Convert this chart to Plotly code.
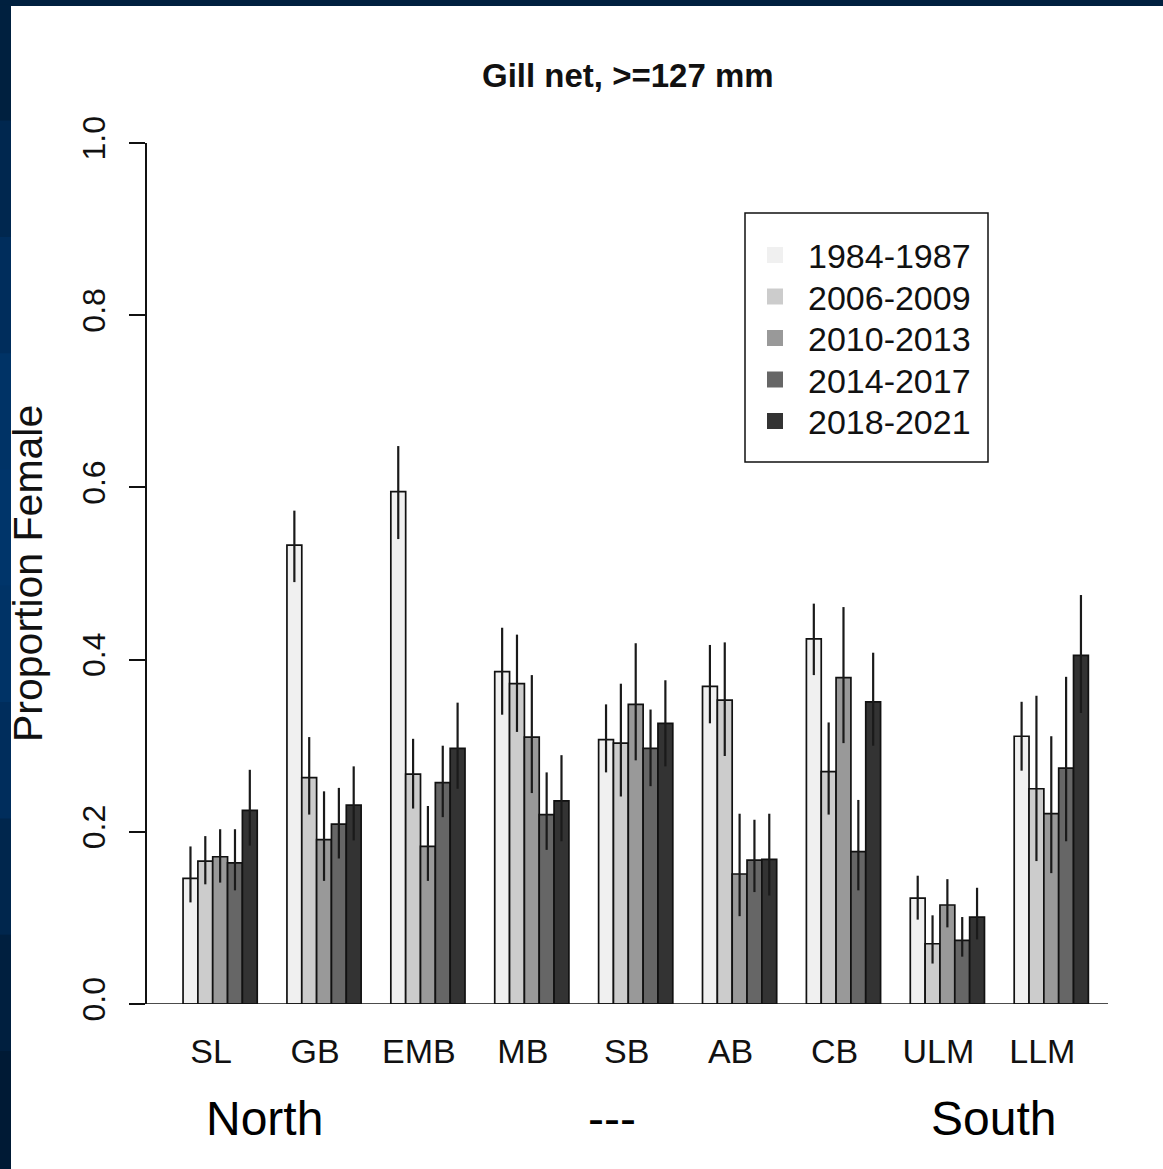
import plotly.graph_objects as go

regions = ["SL", "GB", "EMB", "MB", "SB", "AB", "CB", "ULM", "LLM"]
periods = ["1984-1987", "2006-2009", "2010-2013", "2014-2017", "2018-2021"]
colors = ["#F0F0F0", "#CCCCCC", "#999999", "#666666", "#333333"]

# proportion female per period (rows) and region (columns)
p1984 = [0.146, 0.533, 0.595, 0.386, 0.307, 0.369, 0.424, 0.123, 0.311]
p2006 = [0.166, 0.263, 0.267, 0.372, 0.303, 0.353, 0.270, 0.070, 0.250]
p2010 = [0.171, 0.191, 0.183, 0.310, 0.348, 0.151, 0.379, 0.115, 0.221]
p2014 = [0.164, 0.209, 0.257, 0.220, 0.297, 0.167, 0.177, 0.074, 0.274]
p2018 = [0.225, 0.231, 0.297, 0.236, 0.326, 0.168, 0.351, 0.101, 0.405]

# upper and lower ends of the error bars
hi1984 = [0.183, 0.573, 0.648, 0.437, 0.348, 0.417, 0.465, 0.149, 0.351]
lo1984 = [0.118, 0.490, 0.540, 0.336, 0.269, 0.326, 0.382, 0.098, 0.271]
hi2006 = [0.195, 0.310, 0.308, 0.429, 0.372, 0.420, 0.327, 0.103, 0.358]
lo2006 = [0.139, 0.220, 0.227, 0.316, 0.241, 0.288, 0.220, 0.047, 0.166]
hi2010 = [0.203, 0.247, 0.230, 0.382, 0.419, 0.221, 0.461, 0.145, 0.311]
lo2010 = [0.141, 0.143, 0.143, 0.245, 0.283, 0.102, 0.303, 0.089, 0.152]
hi2014 = [0.203, 0.251, 0.300, 0.269, 0.342, 0.214, 0.237, 0.101, 0.380]
lo2014 = [0.132, 0.169, 0.217, 0.179, 0.253, 0.130, 0.132, 0.055, 0.189]
hi2018 = [0.272, 0.276, 0.350, 0.289, 0.376, 0.221, 0.408, 0.135, 0.475]
lo2018 = [0.184, 0.190, 0.250, 0.189, 0.276, 0.126, 0.300, 0.075, 0.338]

values = [p1984, p2006, p2010, p2014, p2018]
highs = [hi1984, hi2006, hi2010, hi2014, hi2018]
lows = [lo1984, lo2006, lo2010, lo2014, lo2018]

y_ticks = [0.0, 0.2, 0.4, 0.6, 0.8, 1.0]
y_tick_text = ["0.0", "0.2", "0.4", "0.6", "0.8", "1.0"]

W, H = 1163, 1169
L, R, T, B = 147, 55, 143, 165
PW, PH = W - L - R, H - T - B

FONT = "Liberation Sans, Arial, sans-serif"


def px(xp):
    return (xp - L) / PW


def py(yp):
    return (H - B - yp) / PH


fig = go.Figure()
for name, col, v, hi, lo in zip(periods, colors, values, highs, lows):
    fig.add_trace(go.Bar(
        x=regions, y=v, name=name, showlegend=False,
        marker=dict(color=col, line=dict(color="#111111", width=1.7)),
        error_y=dict(type="data", symmetric=False,
                     array=[h - a for h, a in zip(hi, v)],
                     arrayminus=[a - l for l, a in zip(lo, v)],
                     color="#1a1a1a", thickness=2.2, width=0),
    ))

shapes = []
annotations = []
# x baseline extending left past the y axis
shapes.append(dict(type="line", xref="paper", yref="y", x0=-16 / PW, x1=1, y0=0, y1=0,
                   line=dict(color="#111111", width=1.6)))
# legend box
shapes.append(dict(type="rect", xref="paper", yref="paper",
                   x0=px(745), x1=px(988), y0=py(462), y1=py(213),
                   line=dict(color="#111111", width=1.5), fillcolor="white"))
# legend entries: filled squares and labels
for i, (name, col) in enumerate(zip(periods, colors)):
    yc = 256 + i * 41.5
    shapes.append(dict(type="rect", xref="paper", yref="paper",
                       x0=px(767), x1=px(783), y0=py(yc + 7), y1=py(yc - 9),
                       line=dict(width=0), fillcolor=col))
    annotations.append(dict(text=name, xref="paper", yref="paper", x=px(806), y=py(yc),
                            xanchor="left", yanchor="middle", showarrow=False,
                            font=dict(family=FONT, size=34, color="#111111")))
# dark blue frame (top strip and left strip)
shapes.append(dict(type="rect", xref="paper", yref="paper", layer="below",
                   x0=-L / PW - 0.01, x1=(W - L) / PW + 0.01, y0=py(6), y1=py(0) + 0.01,
                   line=dict(width=0), fillcolor="#00203f"))
band_cols = ["#00203f", "#00274f", "#002d5c", "#003366", "#00356a", "#003366",
             "#002d5c", "#00264d", "#001f3f", "#001a35"]
nb = len(band_cols)
for i, c in enumerate(band_cols):
    ytop = 6 + i * (H - 6) / nb
    ybot = 6 + (i + 1) * (H - 6) / nb
    shapes.append(dict(type="rect", xref="paper", yref="paper", layer="below",
                       x0=-L / PW - 0.01, x1=px(11),
                       y0=py(ybot) - 0.002, y1=py(ytop) + 0.002,
                       line=dict(width=0), fillcolor=c))

annotations += [
    dict(text="<b>Gill net, >=127 mm</b>", xref="paper", yref="paper",
         x=0.5, y=py(76), xanchor="center", yanchor="middle",
         showarrow=False, font=dict(family=FONT, size=33, color="#111111")),
    dict(text="Proportion Female", xref="paper", yref="paper",
         x=px(28), y=py(574), textangle=-90,
         xanchor="center", yanchor="middle", showarrow=False,
         font=dict(family=FONT, size=41, color="#111111")),
    dict(text="North", xref="paper", yref="paper", x=px(264), y=py(1118),
         xanchor="center", yanchor="middle", showarrow=False,
         font=dict(family=FONT, size=48, color="#000000")),
    dict(text="---", xref="paper", yref="paper", x=px(612), y=py(1118),
         xanchor="center", yanchor="middle", showarrow=False,
         font=dict(family=FONT, size=48, color="#000000")),
    dict(text="South", xref="paper", yref="paper", x=px(993), y=py(1118),
         xanchor="center", yanchor="middle", showarrow=False,
         font=dict(family=FONT, size=48, color="#000000")),
]

fig.update_layout(
    width=W, height=H,
    margin=dict(l=L, r=R, t=T, b=B, pad=0),
    paper_bgcolor="white", plot_bgcolor="white",
    barmode="group", bargap=0.286, bargroupgap=0,
    font=dict(family=FONT, color="#111111"),
    showlegend=False,
    shapes=shapes, annotations=annotations,
    xaxis=dict(range=[-0.704, 8.546], showline=False, showgrid=False, zeroline=False,
               ticks="", tickfont=dict(family=FONT, size=34, color="#111111"),
               ticklabelshift=-9, ticklabelstandoff=24, fixedrange=True),
    yaxis=dict(range=[0, 1], tickvals=y_ticks, ticktext=y_tick_text,
               showline=True, linecolor="#111111", linewidth=1.6,
               ticks="outside", ticklen=16, tickwidth=1.6, tickcolor="#111111",
               tickangle=-90, tickfont=dict(family=FONT, size=32, color="#111111"),
               ticklabelstandoff=11, showgrid=False, zeroline=False, fixedrange=True),
)

fig.write_html("out.html", config={"displayModeBar": False},
               post_script="document.body.style.margin='0px';")
